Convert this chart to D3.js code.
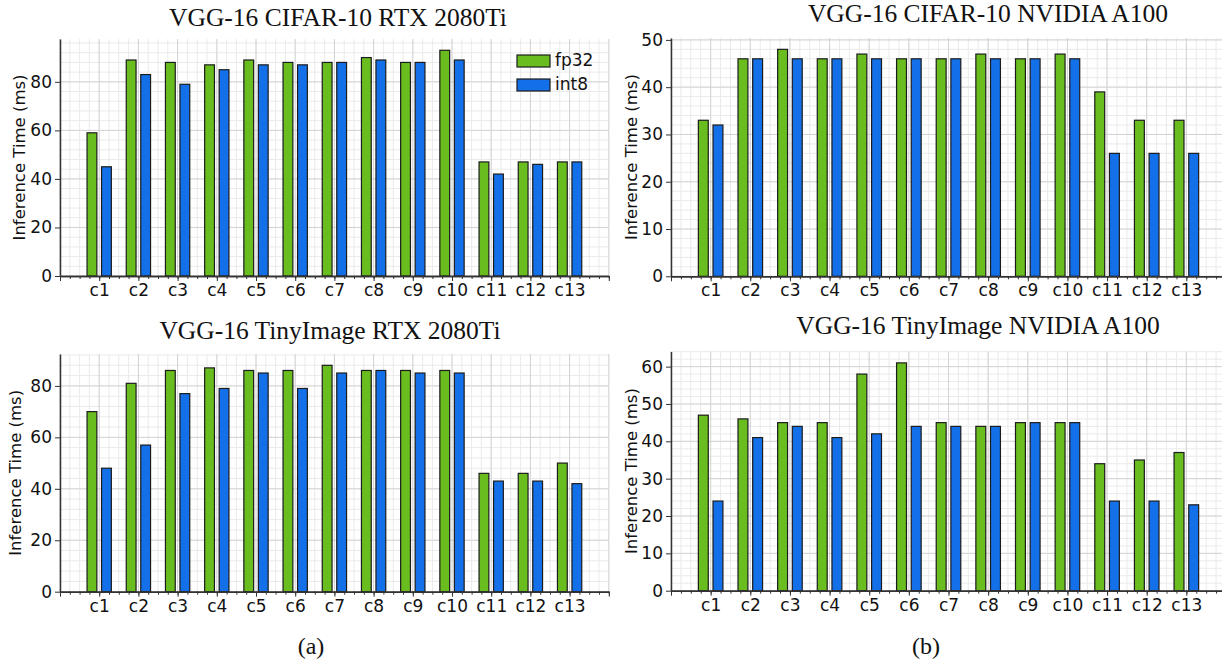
<!DOCTYPE html>
<html>
<head>
<meta charset="utf-8">
<title></title>
<style type="text/css">
  body { margin: 0; background: white; }
  .tick text { font-family: "DejaVu Sans"; fill: #111; }
</style>
</head>
<body>
<div class="container"></div>
<script src="https://d3js.org/d3.v7.min.js"></script>
<script type="text/javascript">
// ---- data ----
var categories = ["c1","c2","c3","c4","c5","c6","c7","c8","c9","c10","c11","c12","c13"]
var seriesNames = ["fp32","int8"]

var cifarRtxFp32 = [59, 89, 88, 87, 89, 88, 88, 90, 88, 93, 47, 47, 47]
var cifarRtxInt8 = [45, 83, 79, 85, 87, 87, 88, 89, 88, 89, 42, 46, 47]

var cifarA100Fp32 = [33, 46, 48, 46, 47, 46, 46, 47, 46, 47, 39, 33, 33]
var cifarA100Int8 = [32, 46, 46, 46, 46, 46, 46, 46, 46, 46, 26, 26, 26]

var tinyRtxFp32 = [70, 81, 86, 87, 86, 86, 88, 86, 86, 86, 46, 46, 50]
var tinyRtxInt8 = [48, 57, 77, 79, 85, 79, 85, 86, 85, 85, 43, 43, 42]

var tinyA100Fp32 = [47, 46, 45, 45, 58, 61, 45, 44, 45, 45, 34, 35, 37]
var tinyA100Int8 = [24, 41, 44, 41, 42, 44, 44, 44, 45, 45, 24, 24, 23]

var yTicksRtx = [0, 20, 40, 60, 80]
var yTicksA100a = [0, 10, 20, 30, 40, 50]
var yTicksA100b = [0, 10, 20, 30, 40, 50, 60]

var subCaptions = ["(a)", "(b)"]

// ---- layout ----
var W = 1222, H = 665
var green = "#69bd1e", blue = "#1470e8"
var colors = [green, blue]

var panels = [
  {title: "VGG-16 CIFAR-10 RTX 2080Ti", data: [cifarRtxFp32, cifarRtxInt8], ticks: yTicksRtx, minor: 4,
   x0: 60, x1: 608.8, top: 39, bottom: 276, tx: 338, ty: 26, lab: -41, legend: true},
  {title: "VGG-16 CIFAR-10 NVIDIA A100", data: [cifarA100Fp32, cifarA100Int8], ticks: yTicksA100a, minor: 2,
   x0: 671, x1: 1226, top: 38, bottom: 276.3, tx: 988, ty: 22, lab: -40},
  {title: "VGG-16 TinyImage RTX 2080Ti", data: [tinyRtxFp32, tinyRtxInt8], ticks: yTicksRtx, minor: 4,
   x0: 60, x1: 608.8, top: 354, bottom: 591.7, tx: 330, ty: 339, lab: -44.5},
  {title: "VGG-16 TinyImage NVIDIA A100", data: [tinyA100Fp32, tinyA100Int8], ticks: yTicksA100b, minor: 2,
   x0: 671, x1: 1226, top: 351.5, bottom: 590.7, tx: 978, ty: 333.5, lab: -40}
]

var svg = d3.select(".container").append("svg")
  .attr("width", W)
  .attr("height", H)
  .style("display", "block")

svg.append("rect").attr("width", W).attr("height", H).attr("fill", "white")

panels.forEach(function(p) {
  var ymax = d3.max(p.data[0].concat(p.data[1])) * 1.05
  var x = d3.scaleLinear().domain([0, 14]).range([p.x0, p.x1])
  var y = d3.scaleLinear().domain([0, ymax]).range([p.bottom, p.top])
  var g = svg.append("g")

  var xMinor = d3.range(0, 14.001, 0.25)
  var xMajor = d3.range(0, 15)
  var yMinor = d3.range(0, ymax, p.minor)

  // minor grid
  g.selectAll(".vmin").data(xMinor).enter().append("line")
    .attr("x1", d => x(d)).attr("x2", d => x(d))
    .attr("y1", p.top).attr("y2", p.bottom)
    .attr("stroke", "#eaeaea").attr("stroke-width", 1)
  g.selectAll(".hmin").data(yMinor).enter().append("line")
    .attr("x1", p.x0).attr("x2", p.x1)
    .attr("y1", d => y(d)).attr("y2", d => y(d))
    .attr("stroke", "#eaeaea").attr("stroke-width", 1)
  // major grid
  g.selectAll(".vmaj").data(xMajor).enter().append("line")
    .attr("x1", d => x(d)).attr("x2", d => x(d))
    .attr("y1", p.top).attr("y2", p.bottom)
    .attr("stroke", "#d4d4d4").attr("stroke-width", 1)
  g.selectAll(".hmaj").data(p.ticks).enter().append("line")
    .attr("x1", p.x0).attr("x2", p.x1)
    .attr("y1", d => y(d)).attr("y2", d => y(d))
    .attr("stroke", "#d4d4d4").attr("stroke-width", 1)

  // bars
  var u = x(1) - x(0)
  var bw = u * 0.25
  var offs = [-0.185, 0.185]
  p.data.forEach(function(vals, s) {
    g.selectAll(".bar" + s).data(vals).enter().append("rect")
      .attr("x", (d, i) => x(i + 1 + offs[s]) - bw / 2)
      .attr("y", d => y(d))
      .attr("width", bw)
      .attr("height", d => y(0) - y(d))
      .attr("fill", colors[s])
      .attr("stroke", "#1c1c1c")
      .attr("stroke-width", 1.2)
  })

  // axes
  var yAxis = g.append("g").attr("transform", "translate(" + p.x0 + ",0)")
  yAxis.call(d3.axisLeft(y).tickValues(yMinor).tickSize(3).tickSizeOuter(0).tickFormat(""))
  yAxis.call(d3.axisLeft(y).tickValues(p.ticks).tickSize(5).tickSizeOuter(0).tickFormat(d3.format("d")))

  var xAxis = g.append("g").attr("transform", "translate(0," + p.bottom + ")")
  xAxis.append("g").call(d3.axisBottom(x).tickValues(xMinor).tickSize(3).tickSizeOuter(0).tickFormat(""))
  xAxis.append("g").call(d3.axisBottom(x).tickValues(xMajor).tickSize(5).tickSizeOuter(0)
    .tickFormat(d => categories[d - 1] || ""))

  g.selectAll(".domain").attr("stroke", "#333").attr("stroke-width", 1.5)
  g.selectAll(".tick line").attr("stroke", "#333")
  yAxis.selectAll(".tick text").style("font-size", "17px").attr("x", -8)
  xAxis.selectAll(".tick text").style("font-size", "17px").attr("y", 8)

  // y label
  g.append("text")
    .attr("transform", "translate(" + (p.x0 + p.lab) + "," + ((p.top + p.bottom) / 2) + ") rotate(-90)")
    .attr("text-anchor", "middle")
    .attr("dy", "0.35em")
    .style("font-family", "DejaVu Sans")
    .style("font-size", "16.5px")
    .attr("fill", "#111")
    .text("Inference Time (ms)")

  // title
  g.append("text")
    .attr("x", p.tx).attr("y", p.ty)
    .attr("text-anchor", "middle")
    .style("font-family", "Liberation Serif")
    .style("font-size", "25.5px")
    .attr("fill", "#111")
    .text(p.title)

  if (p.legend) {
    var lg = g.append("g").attr("transform", "translate(517,55)")
    seriesNames.forEach(function(nm, s) {
      lg.append("rect").attr("x", 0).attr("y", s * 24).attr("width", 33).attr("height", 12)
        .attr("fill", colors[s]).attr("stroke", "#1c1c1c").attr("stroke-width", 1.2)
      lg.append("text").attr("x", 38).attr("y", s * 24 + 11)
        .style("font-family", "DejaVu Sans").style("font-size", "17px").attr("fill", "#111")
        .text(nm)
    })
  }
})

// sub captions
svg.selectAll(".cap").data(subCaptions).enter().append("text")
  .attr("x", (d, i) => i == 0 ? 311 : 926)
  .attr("y", 654)
  .attr("text-anchor", "middle")
  .style("font-family", "Liberation Serif")
  .style("font-size", "24px")
  .attr("fill", "#111")
  .text(d => d)
</script>
</body>
</html>
